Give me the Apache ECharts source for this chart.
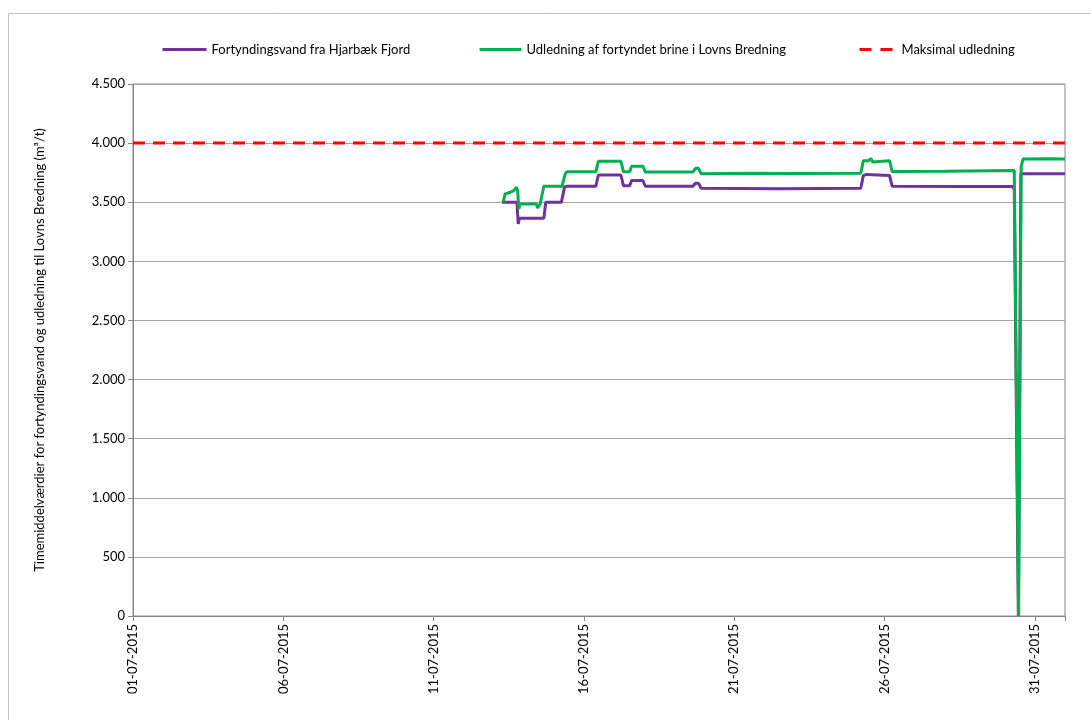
<!DOCTYPE html>
<html>
<head>
<meta charset="utf-8">
<script src="https://cdn.jsdelivr.net/npm/echarts@6/dist/echarts.min.js"></script>
<style>html,body{margin:0;padding:0;background:#fff}#c{width:1091px;height:720px}</style>
</head>
<body>
<div id="c"></div>
<script>
// Series names
const seriesNames = ['Fortyndingsvand fra Hjarbæk Fjord', 'Udledning af fortyndet brine i Lovns Bredning', 'Maksimal udledning'];
const yAxisTitle = 'Timemiddelværdier for fortyndingsvand og udledning til Lovns Bredning (m³/t)';
const yTicks = [0, 500, 1000, 1500, 2000, 2500, 3000, 3500, 4000, 4500];
const xStart = '2015-07-01 00:00';
const xEnd = '2015-08-01 00:00';

// Purple: dilution water (time, m3/h)
const fortyndingTimes = ['2015-07-13 06:30','2015-07-13 18:30','2015-07-13 19:30','2015-07-13 20:30','2015-07-14 16:00','2015-07-14 17:30','2015-07-15 06:00','2015-07-15 08:30','2015-07-15 10:30','2015-07-16 09:30','2015-07-16 11:30','2015-07-17 05:30','2015-07-17 07:30','2015-07-17 12:30','2015-07-17 14:00','2015-07-17 23:00','2015-07-18 01:00','2015-07-19 15:00','2015-07-19 17:00','2015-07-19 19:30','2015-07-19 21:30','2015-07-22 12:00','2015-07-25 05:00','2015-07-25 07:00','2015-07-25 09:30','2015-07-25 11:00','2015-07-26 04:00','2015-07-26 06:00','2015-07-28 12:00','2015-07-30 06:00','2015-07-30 07:30','2015-07-30 10:45','2015-07-30 12:45','2015-07-30 14:00','2015-08-01 00:00'];
const fortyndingValues = [3500,3500,3316,3365,3365,3500,3500,3630,3635,3635,3730,3730,3640,3640,3683,3683,3635,3635,3660,3660,3618,3615,3618,3725,3735,3725,3725,3635,3632,3632,3610,0,3740,3740,3740];

// Green: discharge of diluted brine (time, m3/h)
const udledningTimes = ['2015-07-13 07:30','2015-07-13 09:00','2015-07-13 12:00','2015-07-13 16:00','2015-07-13 18:00','2015-07-13 19:00','2015-07-13 20:00','2015-07-13 21:00','2015-07-14 10:00','2015-07-14 11:00','2015-07-14 13:00','2015-07-14 14:00','2015-07-14 16:00','2015-07-15 06:30','2015-07-15 09:00','2015-07-15 10:30','2015-07-16 09:30','2015-07-16 11:30','2015-07-17 05:30','2015-07-17 07:30','2015-07-17 12:30','2015-07-17 14:00','2015-07-17 23:00','2015-07-18 01:00','2015-07-19 15:00','2015-07-19 17:00','2015-07-19 19:30','2015-07-19 21:30','2015-07-21 12:00','2015-07-23 00:00','2015-07-25 05:00','2015-07-25 07:00','2015-07-25 11:00','2015-07-25 13:00','2015-07-25 14:30','2015-07-25 16:00','2015-07-26 04:00','2015-07-26 06:00','2015-07-28 00:00','2015-07-30 07:30','2015-07-30 09:00','2015-07-30 11:00','2015-07-30 13:00','2015-07-30 14:30','2015-07-31 12:00','2015-08-01 00:00'];
const udledningValues = [3500,3570,3580,3598,3625,3600,3443,3485,3485,3451,3485,3485,3635,3635,3740,3758,3758,3846,3846,3758,3758,3805,3805,3755,3755,3787,3787,3740,3745,3742,3745,3850,3850,3870,3840,3850,3850,3760,3762,3768,3765,0,3800,3865,3868,3865];

// Red: maximum discharge
const maksTimes = ['2015-07-01 00:00','2015-08-01 00:00'];
const maksValues = [4000, 4000];

function toDays(s) {
  const m = s.match(/(\d+)-(\d+)-(\d+) (\d+):(\d+)/);
  const t = Date.UTC(+m[1], +m[2]-1, +m[3], +m[4], +m[5]);
  const m0 = xStart.match(/(\d+)-(\d+)-(\d+) (\d+):(\d+)/);
  const t0 = Date.UTC(+m0[1], +m0[2]-1, +m0[3], +m0[4], +m0[5]);
  return (t - t0) / 86400000;
}
function pairs(times, vals) { return times.map((t, i) => [toDays(t), vals[i]]); }
function pad(n) { return (n < 10 ? '0' : '') + n; }
function dateLabel(d) {
  const m0 = xStart.match(/(\d+)-(\d+)-(\d+)/);
  const dt = new Date(Date.UTC(+m0[1], +m0[2]-1, +m0[3]) + d * 86400000);
  return pad(dt.getUTCDate()) + '-' + pad(dt.getUTCMonth()+1) + '-' + dt.getUTCFullYear();
}
function thousands(v) { return String(v).replace(/\B(?=(\d{3})+(?!\d))/g, '.'); }

const FONT = 'Lato';
const chart = echarts.init(document.getElementById('c'), null, {renderer: 'canvas'});
const legendText = {fontFamily: FONT, fontSize: 13, color: '#000'};
const noIcon = {opacity: 0};
chart.setOption({
  animation: false,
  backgroundColor: '#fff',
  graphic: [{type: 'rect', shape: {x: 8.5, y: 13.5, width: 1100, height: 720}, style: {fill: 'none', stroke: '#bfbfbf', lineWidth: 1}, silent: true}],
  legend: [
    {data: [seriesNames[0]], left: 156, top: 38, itemWidth: 44, itemHeight: 12, itemGap: 4, textStyle: legendText, itemStyle: noIcon, lineStyle: {width: 3, color: '#7030A0'}},
    {data: [seriesNames[1]], left: 473, top: 38, itemWidth: 42, itemHeight: 12, textStyle: legendText, itemStyle: noIcon, lineStyle: {width: 3, color: '#00B050'}},
    {data: [seriesNames[2]], left: 853, top: 38, itemWidth: 37, itemHeight: 12, textStyle: legendText, itemStyle: noIcon, lineStyle: {width: 3, color: '#FF0000', type: [12, 9]}}
  ],
  grid: {left: 133, right: 26, top: 84, bottom: 104, show: true, borderColor: '#868686', borderWidth: 1},
  xAxis: {
    type: 'value', min: 0, max: toDays(xEnd), interval: 5,
    axisLine: {show: true, lineStyle: {color: '#868686'}},
    axisTick: {show: true, length: 5, lineStyle: {color: '#868686'}},
    splitLine: {show: false},
    axisLabel: {rotate: 90, fontFamily: FONT, fontSize: 13, color: '#000', margin: 8,
      formatter: v => (v % 5 === 0 && v <= 30) ? dateLabel(v) : ''}
  },
  yAxis: {
    type: 'value', min: 0, max: 4500, interval: 500,
    name: yAxisTitle, nameLocation: 'middle', nameGap: 87,
    nameTextStyle: {fontFamily: FONT, fontSize: 13, color: '#000'},
    axisLine: {show: true, lineStyle: {color: '#868686'}},
    axisTick: {show: true, length: 5, inside: false, lineStyle: {color: '#868686'}},
    splitLine: {show: true, lineStyle: {color: '#a6a6a6', width: 1}},
    axisLabel: {fontFamily: FONT, fontSize: 13, color: '#000', margin: 8, formatter: v => thousands(v)}
  },
  series: [
    {name: seriesNames[0], type: 'line', data: pairs(fortyndingTimes, fortyndingValues), symbol: 'none', lineStyle: {color: '#7030A0', width: 3}, itemStyle: {color: '#7030A0'}, z: 2},
    {name: seriesNames[1], type: 'line', data: pairs(udledningTimes, udledningValues), symbol: 'none', lineStyle: {color: '#00B050', width: 3}, itemStyle: {color: '#00B050'}, z: 3},
    {name: seriesNames[2], type: 'line', data: pairs(maksTimes, maksValues), symbol: 'none', lineStyle: {color: '#FF0000', width: 3, type: [12, 8]}, itemStyle: {color: '#FF0000'}, z: 4}
  ]
});
</script>
</body>
</html>
